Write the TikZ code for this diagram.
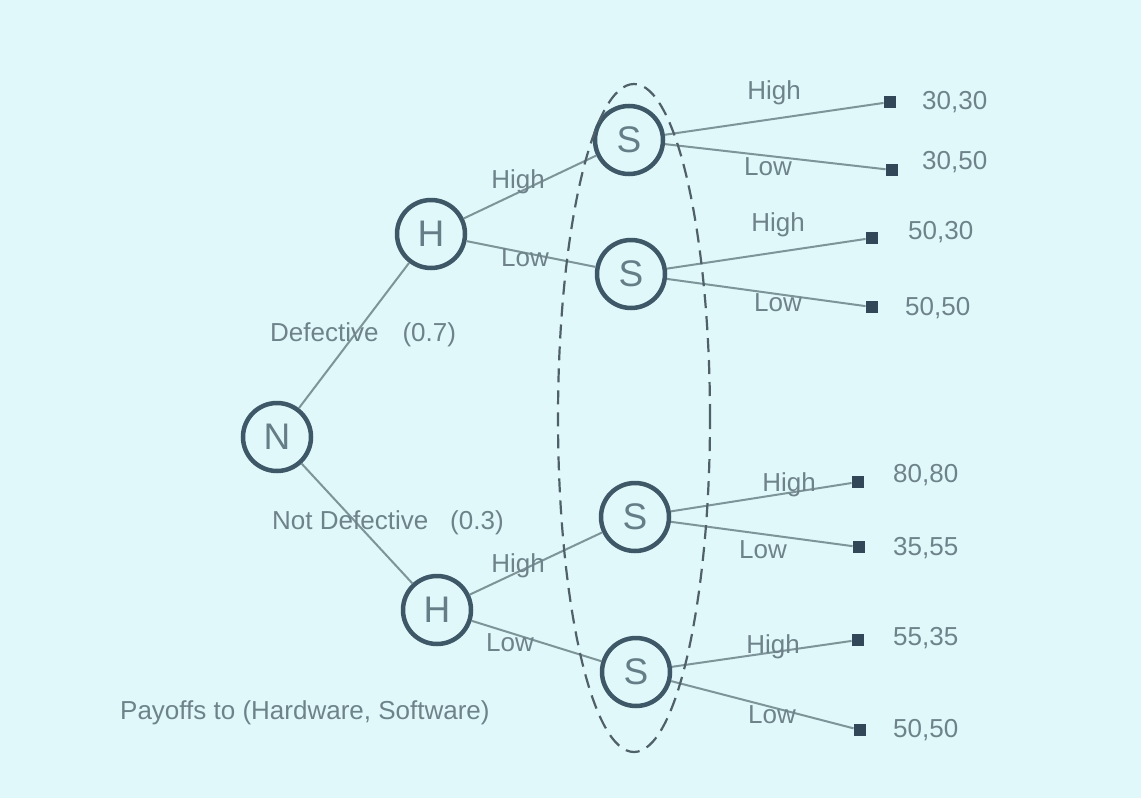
\documentclass[tikz,border=0pt]{standalone}
\usepackage{fontspec}
\setmainfont{Liberation Sans}
\definecolor{bgcol}{RGB}{224,248,250}
\definecolor{nodecol}{RGB}{62,88,104}
\definecolor{lettercol}{RGB}{100,125,135}
\definecolor{edgecol}{RGB}{125,148,152}
\definecolor{textcol}{RGB}{110,130,138}
\definecolor{termcol}{RGB}{50,72,88}
\definecolor{dashcol}{RGB}{80,96,104}
\begin{document}
\begin{tikzpicture}[x=1pt,y=-1pt,
  dec/.style={circle,draw=nodecol,line width=4.5pt,minimum size=68pt,inner sep=0pt,font=\fontsize{37}{40}\selectfont,text=lettercol},
  term/.style={rectangle,fill=termcol,minimum size=12.5pt,inner sep=0pt},
  edge/.style={draw=edgecol,line width=2pt},
  lab/.style={text=textcol,font=\fontsize{26}{30}\selectfont,inner sep=0pt},
  pay/.style={lab,anchor=west}]
\fill[bgcol] (0,0) rectangle (1141,798);
\useasboundingbox (0,0) rectangle (1141,798);
% decision nodes
\node[dec] (N) at (277,437) {N};
\node[dec] (H1) at (431,234) {H};
\node[dec] (H2) at (437,610) {H};
\node[dec] (S1) at (629,140) {S};
\node[dec] (S2) at (631,274) {S};
\node[dec] (S3) at (635,517) {S};
\node[dec] (S4) at (636,672) {S};
% terminals
\node[term] (t1) at (890,102) {};
\node[term] (t2) at (892,170) {};
\node[term] (t3) at (872,238) {};
\node[term] (t4) at (872,307) {};
\node[term] (t5) at (858,482) {};
\node[term] (t6) at (859,547) {};
\node[term] (t7) at (858,640) {};
\node[term] (t8) at (860,730) {};
% payoffs
\node[pay] (p1) at (922,102) {30,30};
\node[pay] (p2) at (922,162) {30,50};
\node[pay] (p3) at (908,232) {50,30};
\node[pay] (p4) at (905,308) {50,50};
\node[pay] (p5) at (893,475) {80,80};
\node[pay] (p6) at (893,548) {35,55};
\node[pay] (p7) at (893,638) {55,35};
\node[pay] (p8) at (893,730) {50,50};
% edges
\draw[edge] (N) -- (H1);
\draw[edge] (N) -- (H2);
\draw[edge] (H1) -- (S1);
\draw[edge] (H1) -- (S2);
\draw[edge] (H2) -- (S3);
\draw[edge] (H2) -- (S4);
\draw[edge] (S1) -- (t1);
\draw[edge] (S1) -- (t2);
\draw[edge] (S2) -- (t3);
\draw[edge] (S2) -- (t4);
\draw[edge] (S3) -- (t5);
\draw[edge] (S3) -- (t6);
\draw[edge] (S4) -- (t7);
\draw[edge] (S4) -- (t8);
% information set
\draw[dashcol,line width=2.2pt,dash pattern=on 14pt off 8pt] (634,418) ellipse [x radius=76pt,y radius=334pt];
% labels
\node[lab] (l1) at (518,182) {High};
\node[lab] (l2) at (525,258) {Low};
\node[lab] (l3) at (518,566) {High};
\node[lab] (l4) at (510,643) {Low};
\node[lab] (l5) at (774,93) {High};
\node[lab] (l6) at (768,167) {Low};
\node[lab] (l7) at (778,225) {High};
\node[lab] (l8) at (778,303) {Low};
\node[lab] (l9) at (789,485) {High};
\node[lab] (l10) at (763,550) {Low};
\node[lab] (l11) at (773,647) {High};
\node[lab] (l12) at (772,715) {Low};
\node[lab,anchor=west] (d1) at (270,335) {Defective\hspace{24pt}(0.7)};
\node[lab,anchor=west] (d2) at (272,523) {Not Defective\hspace{22pt}(0.3)};
\node[lab,anchor=west] (cap) at (120,713) {Payoffs to (Hardware, Software)};
\end{tikzpicture}
\end{document}
